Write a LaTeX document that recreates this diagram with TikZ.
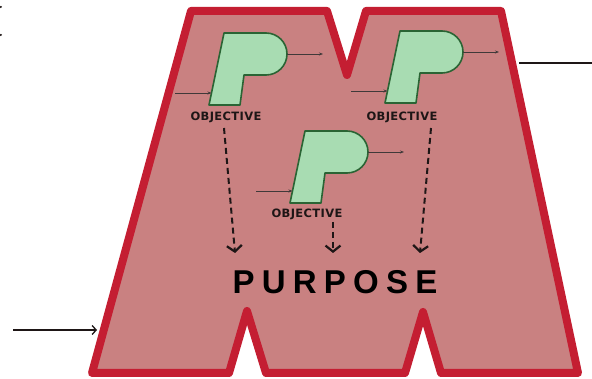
\documentclass[tikz,border=0pt]{standalone}
\usepackage{fontspec}
\setmainfont{Liberation Sans}
\newfontfamily\objfont{DejaVu Sans}[LetterSpace=3]
\newfontfamily\purfont{Liberation Sans}[LetterSpace=22]
\usetikzlibrary{arrows.meta}
\definecolor{mred}{RGB}{196,30,50}
\definecolor{mfill}{RGB}{201,129,129}
\definecolor{pgreen}{RGB}{168,220,178}
\definecolor{pdark}{RGB}{42,100,52}
\definecolor{ink}{RGB}{30,22,22}
\tikzset{
  mborder/.style={draw=mred, fill=mfill, line width=8pt, line join=round},
  pbody/.style={draw=pdark, fill=pgreen, line width=1.6pt, line join=round},
  thinarrow/.style={draw=ink!85, line width=0.7pt, -{Stealth[length=4pt,width=3pt]}},
  dasharrow/.style={draw=ink, line width=2pt, dash pattern=on 6pt off 4pt, -{Straight Barb[length=6pt,width=15pt,line width=2.2pt]}},
  objlabel/.style={font=\objfont\bfseries\fontsize{11.5}{13}\selectfont, text=ink, inner sep=0pt},
  purlabel/.style={font=\purfont\bfseries\fontsize{33}{36}\selectfont, text=black, inner sep=0pt},
  pshape/.pic={
    \draw[pbody] (0,0) -- (15,-72) -- (57,-72) arc[start angle=-90,end angle=90,radius=21] -- (35,-30) -- (31,0) -- cycle;
    \coordinate (-in) at (2.5,-12);
    \coordinate (-out) at (78,-51);
    \coordinate (-src) at (-34,-12);
    \coordinate (-dst) at (114,-51);
  }
}
\begin{document}
\begin{tikzpicture}[x=1pt,y=-1pt]
\useasboundingbox (0,0) rectangle (592,379);
% stray marks at the top left
\fill[ink] (0.8,7) circle[radius=1.2];
\fill[ink] (0.8,35) circle[radius=1.2];
% M shape
\draw[mborder] (191,11) -- (327,11) -- (347,75) -- (366,11) -- (501,11) -- (578,373)
  -- (441,373) -- (423,312) -- (405,373) -- (266,373) -- (247,311) -- (229,373) -- (92,373) -- cycle;
% outer connectors
\coordinate (lsrc) at (13,330);
\coordinate (lhit) at (97,330);
\draw[draw=ink, line width=1.3pt, -{Straight Barb[length=4pt,width=9pt]}] (lsrc) -- (lhit);
\coordinate (rsrc) at (519,63);
\coordinate (rdst) at (592,63);
\draw[draw=ink, line width=1.8pt] (rsrc) -- (rdst);
% objectives
\pic (p1) at (209,105) {pshape};
\pic (p2) at (385,103) {pshape};
\pic (p3) at (290,203) {pshape};
\foreach \p in {p1,p2,p3}{
  \draw[thinarrow] (\p-src) -- (\p-in);
  \draw[thinarrow] (\p-out) -- (\p-dst);
}
\node[objlabel] (o1) at (226,117.5) {OBJECTIVE};
\node[objlabel] (o2) at (402,117) {OBJECTIVE};
\node[objlabel] (o3) at (307,214) {OBJECTIVE};
% purpose
\node[purlabel] (purpose) at (335,282) {PURPOSE};
\coordinate (d1s) at (224,128);
\coordinate (d1e) at (235,253);
\coordinate (d2s) at (333,222);
\coordinate (d2e) at (333,253);
\coordinate (d3s) at (431,128);
\coordinate (d3e) at (420,253);
\draw[dasharrow] (d1s) -- (d1e);
\draw[dasharrow] (d2s) -- (d2e);
\draw[dasharrow] (d3s) -- (d3e);
\end{tikzpicture}
\end{document}
